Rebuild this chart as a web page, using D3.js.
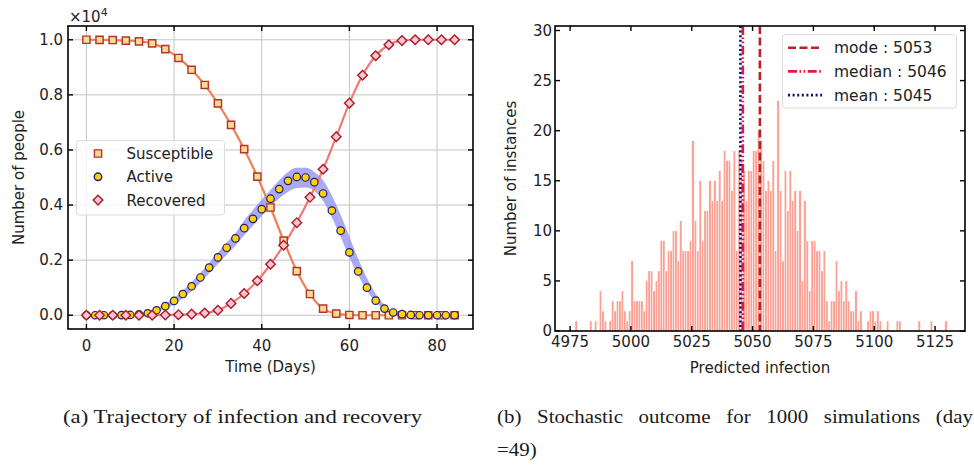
<!DOCTYPE html>
<html>
<head>
<meta charset="utf-8">
<script src="https://cdn.jsdelivr.net/npm/d3@7"></script>
<style>
  body { margin: 0; background: #fff; }
  svg text { font-family: "DejaVu Sans", sans-serif; fill: #222; }
  svg text.cap { font-family: "Liberation Serif", "DejaVu Serif", serif; fill: #1a1a1a; }
</style>
</head>
<body>
<svg id="fig" width="974" height="465"></svg>
<script>
// ---- left panel data (people) ----
let days3 = [0,3,6,9,12,15,18,21,24,27,30,33,36,39,42,45,48,51,54,57,60,63,66,69,72,75,78,81,84];
let susceptible = [10000,9995,9990,9970,9940,9870,9660,9340,8910,8360,7690,6910,6030,5030,3910,2710,1600,770,240,60,10,0,0,0,0,0,0,0,0];
let recovered = [0,0,0,0,0,0,10,20,40,80,180,430,790,1250,1850,2540,3360,4280,5300,6480,7700,8710,9420,9820,9970,10000,10000,10000,10000];
let days2 = [0,2,4,6,8,10,12,14,16,18,20,22,24,26,28,30,32,34,36,38,40,42,44,46,48,50,52,54,56,58,60,62,64,66,68,70,72,74,76,78,80,82,84];
let active = [0,0,0,0,5,10,30,70,180,330,520,770,1050,1370,1730,2100,2450,2790,3160,3500,3850,4230,4580,4880,5020,5000,4830,4420,3800,3070,2280,1590,1000,530,240,100,40,10,0,0,0,0,0];
let activeLo = [0,0,0,0,0,0,20,50,120,240,400,620,880,1180,1520,1860,2200,2520,2900,3250,3600,3950,4250,4480,4620,4640,4520,4150,3550,2850,2100,1450,900,480,210,70,20,0,0,0,0,0,0];
let activeHi = [20,20,20,20,30,50,80,140,260,420,620,900,1200,1540,1900,2280,2640,2980,3450,3820,4200,4550,4900,5200,5350,5350,5200,4900,4350,3650,2850,2050,1350,780,380,150,50,20,10,10,10,10,10];
let leftXTicks = [0,20,40,60,80];
let leftYTicks = [0,2000,4000,6000,8000,10000];

// ---- right panel data ----
let firstBin = 4977;
let instanceCounts = [1,0,0,0,0,0,1,0,1,0,4,2,1,0,1,3,2,3,3,4,2,1,2,
  7,3,3,3,3,2,5,6,6,4,5,6,9,9,6,8,8,10,10,7,11,8,8,8,9,
  19,11,8,15,9,12,12,15,13,15,13,16,13,18,17,17,14,18,8,18,17,16,13,16,16,18,18,20,19,
  17,14,15,14,17,8,23,14,7,16,12,16,13,14,10,14,5,13,9,4,9,9,8,8,6,8,
  3,1,3,3,7,4,5,3,5,3,2,2,4,1,2,0,0,1,2,2,1,2,1,0,0,1,0,0,0,1,1,
  0,0,0,0,0,0,0,1,0,0,0,0,1,0,0,0,0,0,1];
let rightXTicks = [4975,5000,5025,5050,5075,5100,5125];
let rightYTicks = [0,5,10,15,20,25,30];
let stats = [
  {name: "mode", value: 5053, color: "#bb2226", dash: "8,3.5"},
  {name: "median", value: 5046, color: "#e8173f", dash: "9,2.5,1.6,2.5,1.6,2.5"},
  {name: "mean", value: 5045, color: "#0b0b8c", dash: "2,2.6"}
];

const svg = d3.select("#fig");

function frame(g, x, y, w, h) {
  g.append("rect").attr("x", x).attr("y", y).attr("width", w).attr("height", h)
    .attr("fill", "none").attr("stroke", "#000").attr("stroke-width", 1.6);
}
function inwardTicks(g, xs, ys, L, R, T, B, xv, yv) {
  xv.forEach(v => {
    g.append("line").attr("x1", xs(v)).attr("x2", xs(v)).attr("y1", B).attr("y2", B - 5).attr("stroke", "#000").attr("stroke-width", 1.4);
    g.append("line").attr("x1", xs(v)).attr("x2", xs(v)).attr("y1", T).attr("y2", T + 5).attr("stroke", "#000").attr("stroke-width", 1.4);
  });
  yv.forEach(v => {
    g.append("line").attr("x1", L).attr("x2", L + 5).attr("y1", ys(v)).attr("y2", ys(v)).attr("stroke", "#000").attr("stroke-width", 1.4);
    g.append("line").attr("x1", R).attr("x2", R - 5).attr("y1", ys(v)).attr("y2", ys(v)).attr("stroke", "#000").attr("stroke-width", 1.4);
  });
}

// ================= LEFT PANEL =================
(function () {
  const L = 68, R = 473, T = 26, B = 329;
  const x = d3.scaleLinear().domain([-4.2, 88.2]).range([L, R]);
  const y = d3.scaleLinear().domain([-500, 10500]).range([B, T]);
  const g = svg.append("g");

  // grid
  leftXTicks.forEach(v => g.append("line").attr("x1", x(v)).attr("x2", x(v)).attr("y1", T).attr("y2", B).attr("stroke", "#c4c4c4").attr("stroke-width", 1));
  leftYTicks.forEach(v => g.append("line").attr("x1", L).attr("x2", R).attr("y1", y(v)).attr("y2", y(v)).attr("stroke", "#c4c4c4").attr("stroke-width", 1));

  // band
  const band = d3.area().x((d, i) => x(days2[i])).y0((d, i) => y(activeLo[i])).y1((d, i) => y(activeHi[i])).curve(d3.curveMonotoneX);
  g.append("path").datum(days2).attr("d", band).attr("fill", "#8c8cf0").attr("opacity", 0.75);

  const line = (xs, ys) => d3.line().x((d, i) => x(xs[i])).y((d, i) => y(ys[i])).curve(d3.curveMonotoneX);
  g.append("path").datum(days3).attr("d", line(days3, susceptible)).attr("fill", "none").attr("stroke", "#f47e55").attr("stroke-width", 2.2);
  g.append("path").datum(days3).attr("d", line(days3, recovered)).attr("fill", "none").attr("stroke", "#f47676").attr("stroke-width", 2.2);

  // markers
  const sq = d3.symbol().type(d3.symbolSquare).size(52);
  const ci = d3.symbol().type(d3.symbolCircle).size(44);
  const di = d3.symbol().type(d3.symbolSquare).size(46);
  g.selectAll(".sq").data(days3).join("path").attr("class", "sq").attr("d", sq)
    .attr("transform", (d, i) => `translate(${x(d)},${y(susceptible[i])})`)
    .attr("fill", "#f6dc90").attr("stroke", "#b5322c").attr("stroke-width", 1.4);
  g.selectAll(".ci").data(days2).join("path").attr("class", "ci").attr("d", ci)
    .attr("transform", (d, i) => `translate(${x(d)},${y(active[i])})`)
    .attr("fill", "#ffd200").attr("stroke", "#1e1e7a").attr("stroke-width", 1.2);
  g.selectAll(".di").data(days3).join("path").attr("class", "di").attr("d", di)
    .attr("transform", (d, i) => `translate(${x(d)},${y(recovered[i])}) rotate(45)`)
    .attr("fill", "#f9c6cf").attr("stroke", "#a81a26").attr("stroke-width", 1.4);

  // legend
  const lg = g.append("g");
  lg.append("rect").attr("x", 76.5).attr("y", 140.5).attr("width", 148).attr("height", 74.5).attr("rx", 3)
    .attr("fill", "#fff").attr("fill-opacity", 0.8).attr("stroke", "#dcdcdc");
  const items = [
    {label: "Susceptible", sym: sq, rot: 0, fill: "#f6dc90", stroke: "#b5322c"},
    {label: "Active", sym: ci, rot: 0, fill: "#ffd200", stroke: "#1e1e7a"},
    {label: "Recovered", sym: di, rot: 45, fill: "#f9c6cf", stroke: "#a81a26"}
  ];
  items.forEach((it, i) => {
    const cy = 153.5 + i * 23.3;
    lg.append("path").attr("d", it.sym).attr("transform", `translate(98,${cy}) rotate(${it.rot})`)
      .attr("fill", it.fill).attr("stroke", it.stroke).attr("stroke-width", 1.4);
    lg.append("text").attr("x", 126.5).attr("y", cy).attr("dy", "0.36em").attr("font-size", 15).text(it.label);
  });

  frame(g, L, T, R - L, B - T);
  inwardTicks(g, x, y, L, R, T, B, leftXTicks, leftYTicks);

  leftXTicks.forEach(v => g.append("text").attr("x", x(v)).attr("y", B + 17).attr("dy", "0.35em")
    .attr("text-anchor", "middle").attr("font-size", 15).text(v));
  leftYTicks.forEach(v => g.append("text").attr("x", L - 5).attr("y", y(v)).attr("dy", "0.35em")
    .attr("text-anchor", "end").attr("font-size", 15).text(d3.format(".1f")(v / 10000)));
  g.append("text").attr("x", (L + R) / 2).attr("y", 367).attr("dy", "0.35em").attr("text-anchor", "middle")
    .attr("font-size", 15).text("Time (Days)");
  g.append("text").attr("transform", `translate(19,${(T + B) / 2}) rotate(-90)`).attr("dy", "0.35em")
    .attr("text-anchor", "middle").attr("font-size", 15).text("Number of people");
  const ex = g.append("text").attr("x", 69).attr("y", 22).attr("font-size", 15);
  ex.append("tspan").text("\u00d710");
  ex.append("tspan").attr("dy", -6).attr("font-size", 11).text("4");
})();

// ================= RIGHT PANEL =================
(function () {
  const L = 555, R = 965, T = 26, B = 331;
  const x = d3.scaleLinear().domain([4968.8, 5137.3]).range([L, R]);
  const y = d3.scaleLinear().domain([0, 30.45]).range([B, T]);
  const g = svg.append("g");
  const bins = d3.range(firstBin, firstBin + instanceCounts.length);

  g.selectAll(".bar").data(bins).join("rect").attr("class", "bar")
    .attr("x", d => x(d)).attr("width", d => x(d + 1) - x(d))
    .attr("y", (d, i) => y(instanceCounts[i])).attr("height", (d, i) => B - y(instanceCounts[i]))
    .attr("fill", "#faa094").attr("stroke", "#fff").attr("stroke-width", 0.5);

  stats.forEach(s => g.append("line").attr("x1", x(s.value)).attr("x2", x(s.value)).attr("y1", T).attr("y2", B)
    .attr("stroke", s.color).attr("stroke-width", 2.6).attr("stroke-dasharray", s.dash));

  // legend
  const lg = g.append("g");
  lg.append("rect").attr("x", 782.5).attr("y", 34.5).attr("width", 174).attr("height", 73.5).attr("rx", 3)
    .attr("fill", "#fff").attr("fill-opacity", 0.85).attr("stroke", "#dcdcdc");
  stats.forEach((s, i) => {
    const cy = 47.7 + i * 23.7;
    lg.append("line").attr("x1", 788).attr("x2", 822).attr("y1", cy).attr("y2", cy)
      .attr("stroke", s.color).attr("stroke-width", 2.6).attr("stroke-dasharray", s.dash);
    lg.append("text").attr("x", 834).attr("y", cy).attr("dy", "0.36em").attr("font-size", 15.5)
      .text(`${s.name} : ${s.value}`);
  });

  frame(g, L, T, R - L, B - T);
  inwardTicks(g, x, y, L, R, T, B, rightXTicks, rightYTicks);

  rightXTicks.forEach(v => g.append("text").attr("x", x(v)).attr("y", B + 11).attr("dy", "0.35em")
    .attr("text-anchor", "middle").attr("font-size", 15).text(v));
  rightYTicks.forEach(v => g.append("text").attr("x", L - 3).attr("y", y(v)).attr("dy", "0.35em")
    .attr("text-anchor", "end").attr("font-size", 15).text(v));
  g.append("text").attr("x", (L + R) / 2).attr("y", 368).attr("dy", "0.35em").attr("text-anchor", "middle")
    .attr("font-size", 15).text("Predicted infection");
  g.append("text").attr("transform", `translate(511,${(T + B) / 2}) rotate(-90)`).attr("dy", "0.35em")
    .attr("text-anchor", "middle").attr("font-size", 15).text("Number of instances");
})();

// ================= CAPTIONS =================
// serif words widened a little to mimic the wider Computer Modern face
function capWord(w, x0, yb) {
  const t = svg.append("text").attr("class", "cap").attr("x", x0).attr("y", yb).attr("font-size", 19).text(w);
  const wd = t.node().getComputedTextLength() * 1.1;
  t.attr("textLength", wd).attr("lengthAdjust", "spacingAndGlyphs");
  return {t, wd};
}
function justify(words, x0, x1, yb) {
  const ts = words.map(w => capWord(w, x0, yb));
  const gap = (x1 - x0 - d3.sum(ts, d => d.wd)) / (words.length - 1);
  let cx = x0;
  ts.forEach(d => { d.t.attr("x", cx); cx += d.wd + gap; });
}
const capA = svg.append("text").attr("class", "cap").attr("x", 63).attr("y", 423).attr("font-size", 19)
  .text("(a) Trajectory of infection and recovery");
capA.attr("textLength", 359).attr("lengthAdjust", "spacingAndGlyphs");
justify(["(b)", "Stochastic", "outcome", "for", "1000", "simulations", "(day"], 497, 973, 423);
capWord("=49)", 497, 456);
</script>
</body>
</html>
